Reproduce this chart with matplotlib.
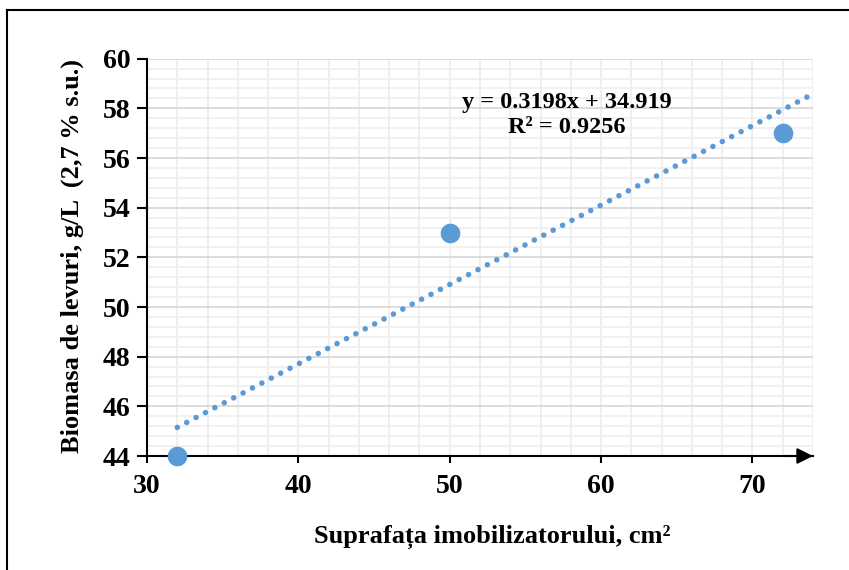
import matplotlib
matplotlib.use("Agg")
import matplotlib.pyplot as plt
import numpy as np
from matplotlib.lines import Line2D
from matplotlib.ticker import MultipleLocator

x_vals = [32, 50, 72]
y_vals = [44, 53, 57]
x_ticks = [30, 40, 50, 60, 70]
y_ticks = [44, 46, 48, 50, 52, 54, 56, 58, 60]
eq_text = "y = 0.3198x + 34.919\nR² = 0.9256"
xlabel = "Suprafața imobilizatorului, cm²"
ylabel = "Biomasa de levuri, g/L  (2,7 % s.u.)"

plt.rcParams['font.family'] = ['Liberation Serif', 'DejaVu Serif']
plt.rcParams['font.weight'] = 'bold'

W, H = 849, 570
fig = plt.figure(figsize=(W/100, H/100), dpi=100)
L, R, T, B = 147, 813, 58.7, 456
ax = fig.add_axes([L/W, 1-B/H, (R-L)/W, (B-T)/H])

col = '#5B9BD5'
# trendline
slope, intercept = np.polyfit(x_vals, y_vals, 1)
xt = np.linspace(min(x_vals), 74, 200)
ax.plot(xt, slope*xt + intercept, color=col, lw=4.0, linestyle=(0, (0.01, 1.9)),
        dash_capstyle='round', zorder=3)
ax.scatter(x_vals, y_vals, s=200, color=col, zorder=4, clip_on=False, linewidths=0)

ax.set_xlim(30, 74)
ax.set_ylim(44, 60)
ax.set_xticks(x_ticks)
ax.set_yticks(y_ticks)
ax.xaxis.set_minor_locator(MultipleLocator(2))
ax.yaxis.set_minor_locator(MultipleLocator(0.4))
ax.grid(which='major', axis='y', color='#D9D9D9', lw=1.3)
ax.grid(which='minor', axis='y', color='#F0F0F0', lw=1.3)
ax.grid(which='both', axis='x', color='#EEEEEE', lw=1.3)
ax.set_axisbelow(True)

for s in ['top', 'right']:
    ax.spines[s].set_visible(False)
ax.spines['left'].set_linewidth(1.5)
ax.spines['bottom'].set_linewidth(1.5)
ax.tick_params(which='minor', length=0)
ax.tick_params(axis='y', which='major', length=7, width=1.5, labelsize=20, pad=5)
ax.tick_params(axis='x', which='major', length=5, width=1.5, labelsize=20, pad=8)
for lab in ax.get_xticklabels() + ax.get_yticklabels():
    lab.set_fontweight('bold')

# arrow at x-axis end
ax.annotate('', xy=(1.0, 0), xytext=(0.96, 0), xycoords='axes fraction',
            arrowprops=dict(arrowstyle='-|>', color='black', lw=1.5,
                            mutation_scale=24, shrinkA=0, shrinkB=0), annotation_clip=False)

fig.text(567/W, 1-115/H, eq_text, ha='center', va='center',
         fontsize=17.5, fontweight='bold', linespacing=1.25)

fig.text(492/W, 1-537/H, xlabel, ha='center', va='center', fontsize=19, fontweight='bold')
fig.text(72/W, 1-256/H, ylabel, ha='center', va='center', rotation=90, fontsize=19, fontweight='bold')

# outer frame (partially visible)
fig.add_artist(Line2D([7/W, 7/W], [0, 1-10/H], transform=fig.transFigure, color='black', lw=1.5))
fig.add_artist(Line2D([7/W, 1], [1-10/H, 1-10/H], transform=fig.transFigure, color='black', lw=1.5))

fig.savefig('out.png', dpi=100)
